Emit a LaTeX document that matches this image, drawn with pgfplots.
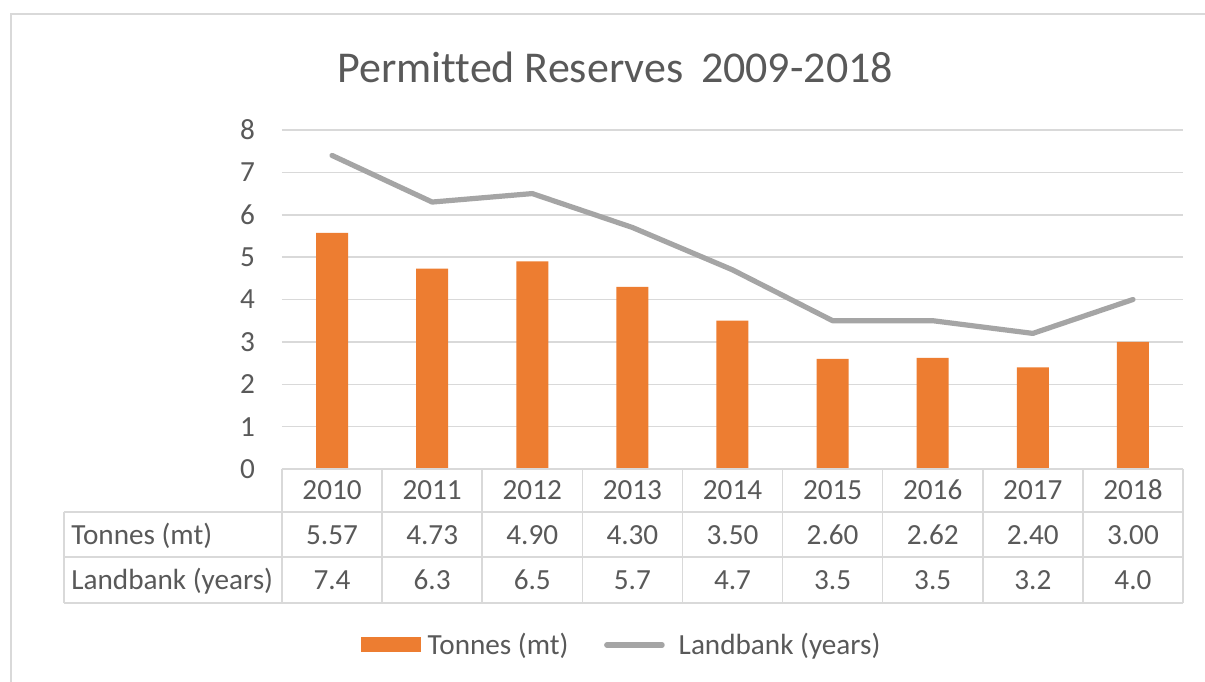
\documentclass[border=0pt]{standalone}
\usepackage{pgfplots}
\pgfplotsset{compat=1.18}
\usepackage{fontspec}
\setmainfont{Carlito}[Ligatures=CommonOff]
\definecolor{txt}{HTML}{595959}
\definecolor{org}{HTML}{ED7D31}
\definecolor{gry}{HTML}{A5A5A5}
\definecolor{grd}{HTML}{D9D9D9}
\begin{document}
\begin{tikzpicture}
\useasboundingbox (-141pt,-106pt) rectangle (461.5pt,234.5pt);
\fill[white] (-141pt,-106pt) rectangle (461.5pt,234.5pt);
\draw[grd, line width=1.3pt] (-135.5pt,-130pt) -- (-135.5pt,227.5pt) -- (480pt,227.5pt);
\begin{axis}[
  at={(0pt,0pt)}, anchor=south west, scale only axis,
  width=450.5pt, height=169.5pt,
  xmin=-0.5, xmax=8.5, ymin=0, ymax=8,
  ytick={0,1,...,8},
  xtick={0,1,...,8},
  xticklabels={2010,2011,2012,2013,2014,2015,2016,2017,2018},
  /pgf/number format/assume math mode=true,
  ymajorgrids, grid style={grd, line width=0.75pt},
  axis line style={draw=none},
  major tick style={draw=none},
  tick label style={font=\fontsize{14.6}{17}\selectfont, text=txt},
  yticklabel style={xshift=-10pt},
  xticklabel style={anchor=base, yshift=-15.2pt},
  title={Permitted Reserves\hspace{0.4em}2009-2018},
  title style={at={(0.3696,1.150)}, anchor=center, font=\fontsize{22}{25}\selectfont, text=txt},
  legend columns=2,
  legend style={at={(0.378,-0.519)}, anchor=center, draw=none, fill=none,
    font=\fontsize{14.6}{17}\selectfont, text=txt,
    /tikz/every even column/.append style={column sep=14.5pt}},
  legend cell align=left,
  clip=false,
]
\addplot[ybar, bar width=16pt, fill=org, draw=none,
  legend image code/.code={\fill[org] (0pt,-3.75pt) rectangle (30pt,3.75pt); \path (31.5pt,0pt);}]
  coordinates {(0,5.57) (1,4.73) (2,4.90) (3,4.30) (4,3.50) (5,2.60) (6,2.62) (7,2.40) (8,3.00)};
\addlegendentry{Tonnes (mt)}
\addplot[gry, line width=2.6pt, line cap=round, line join=round, mark=none,
  legend image code/.code={\draw[gry, line width=2.6pt, line cap=round] (1.3pt,0pt) -- (29pt,0pt); \path (0pt,0pt) (34pt,0pt);}]
  coordinates {(0,7.4) (1,6.3) (2,6.5) (3,5.7) (4,4.7) (5,3.5) (6,3.5) (7,3.2) (8,4.0)};
\addlegendentry{Landbank (years)}
\end{axis}
% data table below the axis
\begin{scope}[grd, line width=0.75pt]
\draw (0pt,0pt) -- (450.5pt,0pt);
\draw (-109pt,-21.5pt) -- (450.5pt,-21.5pt);
\draw (-109pt,-44pt) -- (450.5pt,-44pt);
\draw (-109pt,-67pt) -- (450.5pt,-67pt);
\draw (-109pt,-21.5pt) -- (-109pt,-67pt);
\foreach \k in {0,...,9} {\draw ({\k*50.0556pt},0pt) -- ({\k*50.0556pt},-67pt);}
\end{scope}
\begin{scope}[font=\fontsize{14.6}{17}\selectfont, text=txt]
\node[anchor=base west, inner xsep=0pt] at (-105.5pt,-37.7pt) {Tonnes (mt)};
\node[anchor=base west, inner xsep=0pt] at (-105.5pt,-60.2pt) {Landbank (years)};
\foreach \v [count=\i from 0] in {5.57,4.73,4.90,4.30,3.50,2.60,2.62,2.40,3.00}
  {\node[anchor=base] at ({\i*50.0556pt+25.03pt},-37.7pt) {\v};}
\foreach \v [count=\i from 0] in {7.4,6.3,6.5,5.7,4.7,3.5,3.5,3.2,4.0}
  {\node[anchor=base] at ({\i*50.0556pt+25.03pt},-60.2pt) {\v};}
\end{scope}
\end{tikzpicture}
\end{document}
